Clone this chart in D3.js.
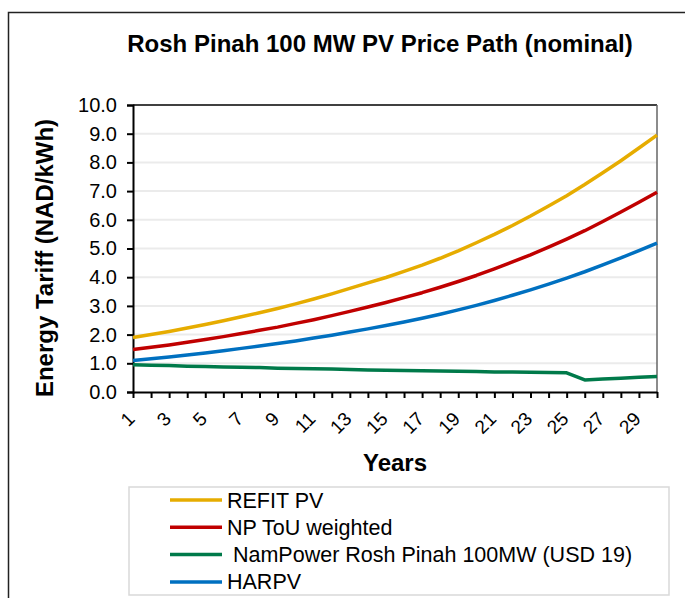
<!DOCTYPE html>
<html>
<head>
<meta charset="utf-8">
<script src="https://cdn.jsdelivr.net/npm/d3@7"></script>
<style>
  body { margin: 0; background: #fff; }
  text { font-family: "Liberation Sans", Arial, sans-serif; fill: #000; }
</style>
</head>
<body>
<script>
(function () {
  "use strict";

  // years along the x axis
  var years = [1, 2, 3, 4, 5, 6, 7, 8, 9, 10, 11, 12, 13, 14, 15,
               16, 17, 18, 19, 20, 21, 22, 23, 24, 25, 26, 27, 28, 29, 30];
  var xLabels = [1, 3, 5, 7, 9, 11, 13, 15, 17, 19, 21, 23, 25, 27, 29];
  var yTicks = [0, 1, 2, 3, 4, 5, 6, 7, 8, 9, 10];

  var refitPV = [1.90, 2.00, 2.11, 2.23, 2.35, 2.48, 2.62, 2.76, 2.91, 3.07,
                 3.24, 3.42, 3.61, 3.80, 3.99, 4.20, 4.42, 4.66, 4.92, 5.20,
                 5.49, 5.80, 6.13, 6.48, 6.84, 7.23, 7.64, 8.06, 8.50, 8.95];
  var npTou = [1.48, 1.56, 1.64, 1.73, 1.83, 1.93, 2.04, 2.15, 2.26, 2.39,
               2.52, 2.66, 2.81, 2.96, 3.12, 3.29, 3.46, 3.65, 3.85, 4.06,
               4.29, 4.53, 4.78, 5.05, 5.33, 5.62, 5.94, 6.27, 6.61, 6.96];
  var namPower = [0.95, 0.93, 0.92, 0.90, 0.89, 0.87, 0.86, 0.85, 0.83, 0.82,
                  0.81, 0.80, 0.78, 0.77, 0.76, 0.75, 0.74, 0.73, 0.72, 0.71,
                  0.70, 0.70, 0.69, 0.68, 0.67, 0.42, 0.45, 0.48, 0.51, 0.54];
  var harpv = [1.10, 1.16, 1.22, 1.29, 1.36, 1.44, 1.52, 1.60, 1.69, 1.78,
               1.88, 1.98, 2.09, 2.20, 2.32, 2.44, 2.57, 2.71, 2.86, 3.02,
               3.19, 3.37, 3.56, 3.76, 3.97, 4.19, 4.43, 4.67, 4.93, 5.19];

  var seriesNames = ["REFIT PV", "NP ToU weighted", " NamPower Rosh Pinah 100MW (USD 19)", "HARPV"];
  var seriesColors = ["#E6AC00", "#C00000", "#007A4A", "#0070C0"];
  var seriesValues = [refitPV, npTou, namPower, harpv];

  var width = 685, height = 598;
  var plot = {left: 133, right: 657, top: 105, bottom: 392};

  var svg = d3.select("body").append("svg")
      .attr("width", width)
      .attr("height", height);

  // chart frame
  svg.append("rect")
      .attr("x", 8.5).attr("y", 12.5)
      .attr("width", 760).attr("height", 700)
      .attr("fill", "none")
      .attr("stroke", "#222")
      .attr("stroke-width", 1.5);

  var x = d3.scalePoint().domain(years).range([plot.left, plot.right]);
  var y = d3.scaleLinear().domain([0, 10]).range([plot.bottom, plot.top]);

  // gridlines
  svg.append("g").selectAll("line")
      .data(yTicks.slice(1, -1))
      .enter().append("line")
      .attr("x1", plot.left).attr("x2", plot.right)
      .attr("y1", function (d) { return y(d); })
      .attr("y2", function (d) { return y(d); })
      .attr("stroke", "#ebebeb")
      .attr("stroke-width", 2);

  // plot border top / right
  svg.append("line")
      .attr("x1", plot.left).attr("x2", plot.right)
      .attr("y1", plot.top).attr("y2", plot.top)
      .attr("stroke", "#000").attr("stroke-width", 1.5);
  svg.append("line")
      .attr("x1", plot.right).attr("x2", plot.right)
      .attr("y1", plot.top).attr("y2", plot.bottom)
      .attr("stroke", "#666").attr("stroke-width", 1.5);

  // y axis
  var yAxis = svg.append("g")
      .attr("transform", "translate(" + plot.left + ",0)")
      .call(d3.axisLeft(y).tickValues(yTicks).tickSize(6).tickPadding(10)
        .tickFormat(d3.format(".1f")));
  yAxis.select(".domain").attr("stroke-width", 2);
  yAxis.selectAll(".tick line").attr("stroke-width", 2);
  yAxis.selectAll("text")
      .style("font-size", "20px")
      .attr("fill", "#000");

  // x axis
  var xAxis = svg.append("g")
      .attr("transform", "translate(0," + plot.bottom + ")")
      .call(d3.axisBottom(x).tickSize(6).tickSizeOuter(0).tickFormat(""));
  xAxis.select(".domain").attr("stroke-width", 2);
  xAxis.selectAll(".tick line").attr("stroke-width", 2);

  svg.append("g").selectAll("text")
      .data(xLabels)
      .enter().append("text")
      .attr("transform", function (d) {
        return "translate(" + (x(d) + 3) + "," + (plot.bottom + 28) + ") rotate(-45)";
      })
      .attr("text-anchor", "end")
      .style("font-size", "19px")
      .text(function (d) { return d; });

  // series
  var line = d3.line()
      .x(function (d, i) { return x(years[i]); })
      .y(function (d) { return y(d); });

  svg.append("g").selectAll("path")
      .data(seriesValues)
      .enter().append("path")
      .attr("d", line)
      .attr("fill", "none")
      .attr("stroke", function (d, i) { return seriesColors[i]; })
      .attr("stroke-width", 3.5)
      .attr("stroke-linejoin", "round");

  // titles
  svg.append("text")
      .attr("x", 380).attr("y", 52)
      .attr("text-anchor", "middle")
      .style("font-size", "24px").style("font-weight", "bold")
      .text("Rosh Pinah 100 MW PV Price Path (nominal)");

  svg.append("text")
      .attr("transform", "translate(53,258) rotate(-90)")
      .attr("text-anchor", "middle")
      .style("font-size", "24px").style("font-weight", "bold")
      .text("Energy Tariff (NAD/kWh)");

  svg.append("text")
      .attr("x", 395).attr("y", 471)
      .attr("text-anchor", "middle")
      .style("font-size", "24px").style("font-weight", "bold")
      .text("Years");

  // legend
  svg.append("rect")
      .attr("x", 129).attr("y", 487)
      .attr("width", 540).attr("height", 108)
      .attr("fill", "#fff")
      .attr("stroke", "#d9d9d9")
      .attr("stroke-width", 1.5);

  var legend = svg.append("g").selectAll("g")
      .data(seriesNames)
      .enter().append("g")
      .attr("transform", function (d, i) { return "translate(170," + (500 + i * 27.3) + ")"; });
  legend.append("line")
      .attr("x1", 0).attr("x2", 52)
      .attr("stroke", function (d, i) { return seriesColors[i]; })
      .attr("stroke-width", 3.5);
  legend.append("text")
      .attr("x", 57).attr("y", 7.5)
      .style("font-size", "21.5px")
      .style("white-space", "pre")
      .attr("xml:space", "preserve")
      .text(function (d) { return d; });
}());
</script>
</body>
</html>
